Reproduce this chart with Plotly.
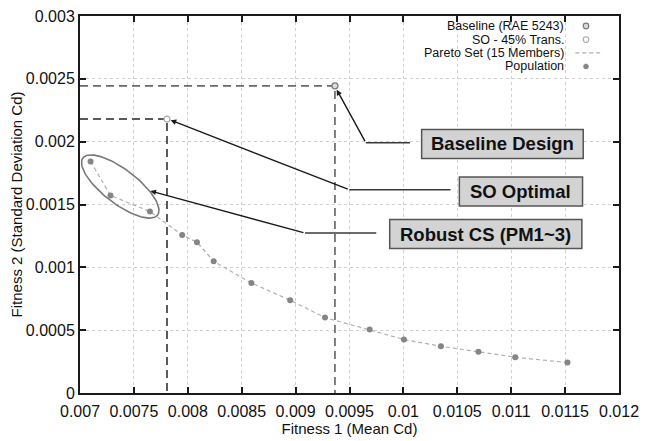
import numpy as np
import plotly.graph_objects as go

# ---------------- data ----------------
pareto_mean_cd = [0.007098, 0.007283, 0.007649, 0.007948, 0.008085, 0.008240, 0.008590,
                  0.008950, 0.009273, 0.009687, 0.010005, 0.010348, 0.010696, 0.011037, 0.011522]
pareto_std_cd = [0.001842, 0.001572, 0.001444, 0.001257, 0.001200, 0.001049, 0.000875,
                 0.000738, 0.000600, 0.000505, 0.000426, 0.000372, 0.000328, 0.000285, 0.000242]
baseline_mean_cd = [0.009365]
baseline_std_cd = [0.002444]
so_mean_cd = [0.007807]
so_std_cd = [0.002180]

x_tick_vals = [0.007, 0.0075, 0.008, 0.0085, 0.009, 0.0095, 0.01, 0.0105, 0.011, 0.0115, 0.012]
x_tick_text = ["0.007", "0.0075", "0.008", "0.0085", "0.009", "0.0095", "0.01", "0.0105",
               "0.011", "0.0115", "0.012"]
y_tick_vals = [0, 0.0005, 0.001, 0.0015, 0.002, 0.0025, 0.003]
y_tick_text = ["0", "0.0005", "0.001", "0.0015", "0.002", "0.0025", "0.003"]

legend_labels = ["Baseline (RAE 5243)", "SO - 45% Trans.", "Pareto Set (15 Members)", "Population"]
callout_labels = ["Baseline Design", "SO Optimal", "Robust CS (PM1~3)"]

X_RANGE = [0.007, 0.012]
Y_RANGE = [0, 0.003]

# ---------------- layout geometry (pixels) ----------------
W, H = 647, 441
L, R, T, B = 80, 627, 8, 397


def dx(px):
    return X_RANGE[0] + (px - L) / (R - L) * (X_RANGE[1] - X_RANGE[0])


def dy(py):
    return Y_RANGE[0] + (B - py) / (B - T) * (Y_RANGE[1] - Y_RANGE[0])


FONT = "Arial, Liberation Sans, sans-serif"

fig = go.Figure()

# reference dashed lines to the two designs
fig.add_trace(go.Scatter(
    x=[X_RANGE[0], so_mean_cd[0], so_mean_cd[0]], y=[so_std_cd[0], so_std_cd[0], Y_RANGE[0]],
    mode="lines", line=dict(color="#5a5a5a", width=2, dash="8px,5px"),
    hoverinfo="skip", showlegend=False))
fig.add_trace(go.Scatter(
    x=[X_RANGE[0], baseline_mean_cd[0], baseline_mean_cd[0]],
    y=[baseline_std_cd[0], baseline_std_cd[0], Y_RANGE[0]],
    mode="lines", line=dict(color="#6a6a6a", width=1.7, dash="8px,5px"),
    hoverinfo="skip", showlegend=False))

# Pareto set line + population points
fig.add_trace(go.Scatter(
    x=pareto_mean_cd, y=pareto_std_cd, mode="lines",
    line=dict(color="#b0b0b0", width=1.2, dash="4px,3px"),
    name=legend_labels[2], showlegend=False))
fig.add_trace(go.Scatter(
    x=pareto_mean_cd, y=pareto_std_cd, mode="markers",
    marker=dict(color="#858585", size=6),
    name=legend_labels[3], showlegend=False))

# baseline & SO markers
fig.add_trace(go.Scatter(
    x=baseline_mean_cd, y=baseline_std_cd, mode="markers",
    marker=dict(color="#e0e0e0", size=6, line=dict(color="#7a7a7a", width=1.3)),
    name=legend_labels[0], showlegend=False))
fig.add_trace(go.Scatter(
    x=so_mean_cd, y=so_std_cd, mode="markers",
    marker=dict(color="white", size=6, line=dict(color="#a8a8a8", width=1.2)),
    name=legend_labels[1], showlegend=False))

# ellipse around the robust compromise solutions (first three Pareto members)
cx_px = (np.interp(pareto_mean_cd[0], X_RANGE, [L, R]) + np.interp(pareto_mean_cd[2], X_RANGE, [L, R])) / 2
cy_px = (np.interp(pareto_std_cd[0], Y_RANGE, [B, T]) + np.interp(pareto_std_cd[2], Y_RANGE, [B, T])) / 2
a_px, b_px, th = 48, 17.5, np.deg2rad(38)
t = np.linspace(0, 2 * np.pi, 120)
ex = cx_px + a_px * np.cos(t) * np.cos(th) - b_px * np.sin(t) * np.sin(th)
ey = cy_px + a_px * np.cos(t) * np.sin(th) + b_px * np.sin(t) * np.cos(th)
fig.add_trace(go.Scatter(
    x=[dx(v) for v in ex], y=[dy(v) for v in ey], mode="lines",
    line=dict(color="#7a7a7a", width=1.6), hoverinfo="skip", showlegend=False))

shapes = []
annotations = []

# callout boxes: (label, center px, width, height)
boxes = [
    (callout_labels[0], (508.7, 140), 164, 30),
    (callout_labels[1], (527.5, 189), 125, 30),
    (callout_labels[2], (491.8, 233), 195, 30),
]
for lab, (cx, cy), bw, bh in boxes:
    shapes.append(dict(type="rect", xref="x", yref="y",
                       x0=dx(cx - bw / 2), x1=dx(cx + bw / 2), y0=dy(cy + bh / 2), y1=dy(cy - bh / 2),
                       fillcolor="#d3d3d3", line=dict(color="#555555", width=1.5), layer="above"))
    annotations.append(dict(x=dx(cx), y=dy(cy), xref="x", yref="y", text=f"<b>{lab}</b>",
                            showarrow=False, xanchor="center", yanchor="middle",
                            font=dict(family=FONT, size=18.5, color="#111111")))

# leader lines: (horizontal start, bend, tip)
leaders = [
    ((415, 138.7), (370, 138.7), (340.5, 84)),
    ((456, 187.3), (353.3, 187.3), (172, 115.5)),
    ((380.7, 232), (308.3, 232), (151.5, 188.5)),
]
for (sx, sy), (bx, by), (tx, ty) in leaders:
    shapes.append(dict(type="line", xref="x", yref="y", x0=dx(sx), y0=dy(sy), x1=dx(bx), y1=dy(by),
                       line=dict(color="#3a3a3a", width=1.5)))
    annotations.append(dict(x=dx(tx), y=dy(ty), ax=dx(bx), ay=dy(by), xref="x", yref="y",
                            axref="x", ayref="y", text="", showarrow=True, arrowhead=2,
                            arrowsize=0.8, arrowwidth=1.4, arrowcolor="#1a1a1a", standoff=0))

# manual legend (text right-aligned, symbol on the right)
leg_y = [18.3, 32.3, 46, 60]
for lab, ly in zip(legend_labels, leg_y):
    annotations.append(dict(x=dx(572), y=dy(ly), xref="x", yref="y", text=lab, showarrow=False,
                            xanchor="right", yanchor="middle", borderpad=0,
                            font=dict(family=FONT, size=12.5, color="#111111")))
sym_x = dx(593.5)
shapes.append(dict(type="circle", xref="x", yref="y", xsizemode="pixel", ysizemode="pixel",
                   xanchor=sym_x, yanchor=dy(leg_y[0]), x0=-2.8, x1=2.8, y0=-2.8, y1=2.8,
                   fillcolor="#d8d8d8", line=dict(color="#7a7a7a", width=1.2)))
shapes.append(dict(type="circle", xref="x", yref="y", xsizemode="pixel", ysizemode="pixel",
                   xanchor=sym_x, yanchor=dy(leg_y[1]), x0=-2.8, x1=2.8, y0=-2.8, y1=2.8,
                   fillcolor="white", line=dict(color="#a8a8a8", width=1.1)))
shapes.append(dict(type="line", xref="x", yref="y", x0=dx(582.5), x1=dx(611), y0=dy(leg_y[2]), y1=dy(leg_y[2]),
                   line=dict(color="#b0b0b0", width=1.2, dash="4px,3px")))
shapes.append(dict(type="circle", xref="x", yref="y", xsizemode="pixel", ysizemode="pixel",
                   xanchor=sym_x, yanchor=dy(leg_y[3]), x0=-2.5, x1=2.5, y0=-2.5, y1=2.5,
                   fillcolor="#858585", line=dict(color="#858585", width=0.5)))

axis_common = dict(
    showline=True, linecolor="#1a1a1a", linewidth=2, mirror="ticks",
    ticks="inside", ticklen=6, tickwidth=1.5, tickcolor="#1a1a1a",
    showgrid=True, gridcolor="#d0d0d0", gridwidth=1, griddash="dot",
    zeroline=False, tickfont=dict(family=FONT, size=16, color="#111111"),
    ticklabeloverflow="allow",
)

fig.update_layout(
    width=W, height=H,
    margin=dict(l=L, r=W - R, t=T, b=H - B),
    paper_bgcolor="white", plot_bgcolor="white",
    showlegend=False,
    shapes=shapes, annotations=annotations,
    xaxis=dict(range=X_RANGE, tickvals=x_tick_vals, ticktext=x_tick_text, ticklabelstandoff=3,
               title=dict(text="Fitness 1 (Mean Cd)", font=dict(family=FONT, size=15, color="#111111"),
                          standoff=2), **axis_common),
    yaxis=dict(range=Y_RANGE, tickvals=y_tick_vals, ticktext=y_tick_text, ticklabelstandoff=0,
               title=dict(text="Fitness 2 (Standard Deviation Cd)",
                          font=dict(family=FONT, size=15, color="#111111"), standoff=0), **axis_common),
)

fig.write_html("out.html")
